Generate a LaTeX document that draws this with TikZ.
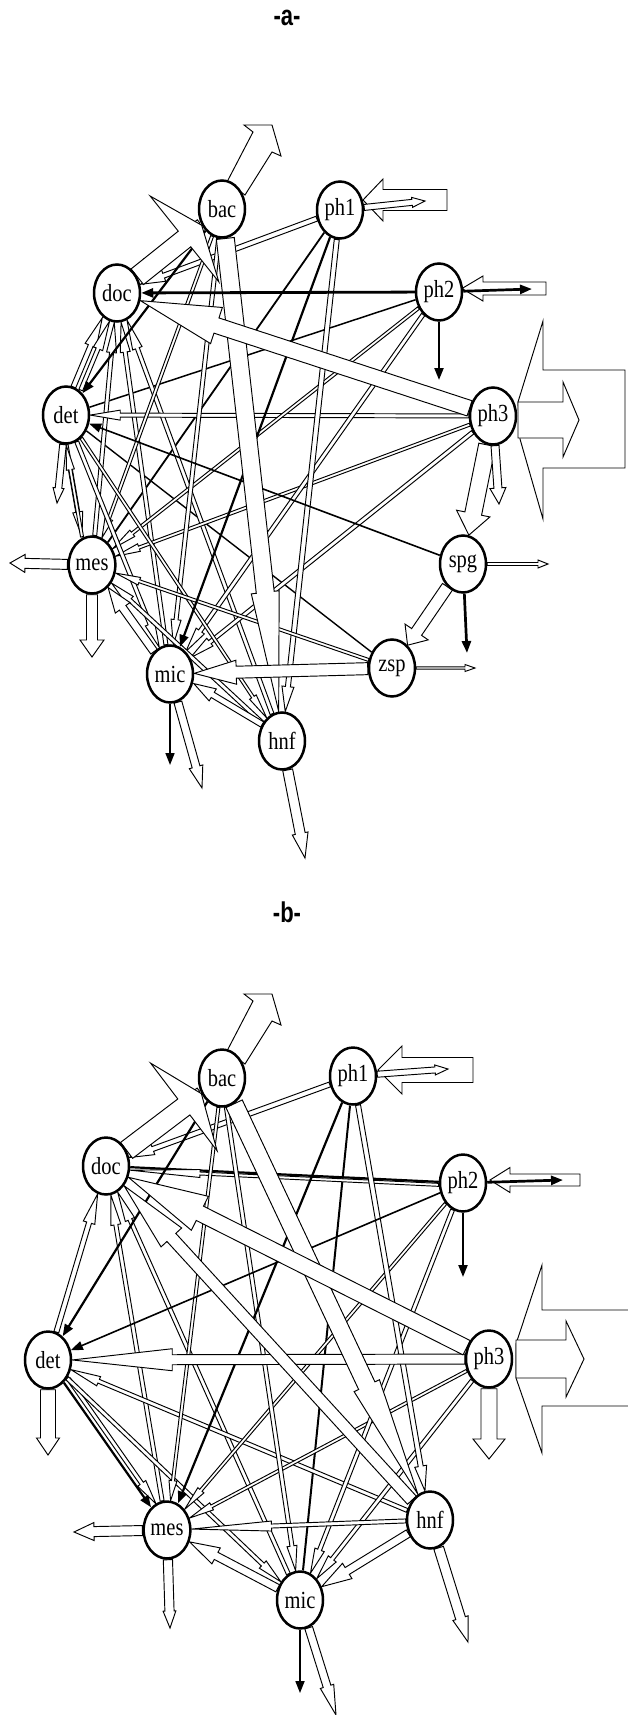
\documentclass[tikz,border=0pt]{standalone}
\usepackage{fontspec}
\setmainfont{Liberation Serif}
\setsansfont{Liberation Sans}
\usepackage{graphicx}
\usetikzlibrary{shapes.geometric,calc,arrows.meta}
\pgfdeclarelayer{bg}
\pgfsetlayers{bg,main}
\tikzset{
 nd/.style={ellipse, draw, line width=2.5pt, fill=white, minimum width=46pt, minimum height=57pt, inner sep=0pt, font=\fontsize{20.5}{20.5}\selectfont},
 hol/.style={draw=black, fill=white, line width=0.95pt, line join=miter},
 blk/.style={draw=black, -{Triangle[length=12pt,width=9pt]}},
 pln/.style={draw=black},
 ttl/.style={font=\sffamily\bfseries\fontsize{22}{22}\selectfont}
}
\newcommand\nl[1]{\scalebox{1}[1.2]{#1}}
% hollow arrow: from, to, half width, head half width, head length, perpendicular shift
\newcommand\harr[6]{%
  \path (#1) -- coordinate[pos=0] (hS0) coordinate[pos=1] (hE0) (#2);
  \coordinate (hS) at ($(hS0)!#6pt!90:(hE0)$);
  \coordinate (hE) at ($(hE0)!#6pt!-90:(hS0)$);
  \coordinate (hB) at ($(hE)!#5pt!(hS)$);
  \draw[hol] ($(hS)!#3pt!90:(hE)$) -- ($(hB)!#3pt!90:(hE)$) -- ($(hB)!#4pt!90:(hE)$) -- (hE)
     -- ($(hB)!#4pt!-90:(hE)$) -- ($(hB)!#3pt!-90:(hE)$) -- ($(hS)!#3pt!-90:(hE)$) -- cycle;
}
% import arrow pointing left into a node: node, tipx, cy, barbx, hh, hw, tailx
\newcommand\impa[7]{%
  \draw[hol] ($(#1)+(#2,#3)$) -- ($(#1)+(#4,#3-#5)$) -- ($(#1)+(#4,#3-#6)$) -- ($(#1)+(#7,#3-#6)$)
     -- ($(#1)+(#7,#3+#6)$) -- ($(#1)+(#4,#3+#6)$) -- ($(#1)+(#4,#3+#5)$) -- cycle;
}
% clipped export arrow above bac
\newcommand\bacup[1]{%
  \draw[hol] ($(#1)+(5,-27)$) -- ($(#1)+(31,-77)$) -- ($(#1)+(22,-84)$) -- ($(#1)+(50,-84)$)
     -- ($(#1)+(59,-53)$) -- ($(#1)+(50,-57)$) -- ($(#1)+(23,-14)$) -- cycle;
}
\begin{document}
\begin{tikzpicture}[x=1pt,y=-1pt]
\useasboundingbox (0,0) rectangle (628,1715);
\node[ttl] (ta) at (287,18) {\scalebox{1}[1.3]{-a-}};
\node[ttl] (tb) at (287,912) {\scalebox{1}[1.3]{-b-}};
% ---------------- panel a nodes
\node[nd] (aBac) at (222,209) {\nl{bac}};
\node[nd] (aPh1) at (340,210) {\nl{ph1}};
\node[nd] (aDoc) at (117,293) {\nl{doc}};
\node[nd] (aPh2) at (439,292) {\nl{ph2}};
\node[nd] (aDet) at (66,415) {\nl{det}};
\node[nd] (aPh3) at (493,416) {\nl{ph3}};
\node[nd] (aMes) at (92,565) {\nl{mes}};
\node[nd] (aSpg) at (463,564) {\nl{spg}};
\node[nd] (aMic) at (170,674) {\nl{mic}};
\node[nd] (aZsp) at (392,668) {\nl{zsp}};
\node[nd] (aHnf) at (282,741) {\nl{hnf}};
% ---------------- panel b nodes
\node[nd] (bBac) at (222,1078) {\nl{bac}};
\node[nd] (bPh1) at (353,1076) {\nl{ph1}};
\node[nd] (bDoc) at (106,1166) {\nl{doc}};
\node[nd] (bPh2) at (463,1183) {\nl{ph2}};
\node[nd] (bDet) at (48,1360) {\nl{det}};
\node[nd] (bPh3) at (489,1359) {\nl{ph3}};
\node[nd] (bMes) at (167,1530) {\nl{mes}};
\node[nd] (bHnf) at (430,1520) {\nl{hnf}};
\node[nd] (bMic) at (300,1600) {\nl{mic}};
% external end points
\coordinate (aPh1x) at ($(aPh1)+(85,-9)$);
\coordinate (aPh2x) at ($(aPh2)+(93,-3)$);
\coordinate (aPh2d) at ($(aPh2)+(0,88)$);
\coordinate (aPh3d) at ($(aPh3)+(6,88)$);
\coordinate (aDetd) at ($(aDet)+(-9,88)$);
\coordinate (aMesl) at ($(aMes)+(-82,-2)$);
\coordinate (aMesd) at ($(aMes)+(0,92)$);
\coordinate (aMicd) at ($(aMic)+(0,91)$);
\coordinate (aMicr) at ($(aMic)+(32,114)$);
\coordinate (aHnfd) at ($(aHnf)+(23,117)$);
\coordinate (aSpgr) at ($(aSpg)+(85,0)$);
\coordinate (aSpgd) at ($(aSpg)+(4,89)$);
\coordinate (aZspr) at ($(aZsp)+(83,0)$);
\coordinate (bPh1x) at ($(bPh1)+(95,-7)$);
\coordinate (bPh2x) at ($(bPh2)+(100,-3)$);
\coordinate (bPh2d) at ($(bPh2)+(0,94)$);
\coordinate (bPh3d) at ($(bPh3)+(0,100)$);
\coordinate (bDetd) at ($(bDet)+(0,95)$);
\coordinate (bMesl) at ($(bMes)+(-93,2)$);
\coordinate (bMesd) at ($(bMes)+(3,98)$);
\coordinate (bMicd) at ($(bMic)+(0,93)$);
\coordinate (bMicr) at ($(bMic)+(36,115)$);
\coordinate (bHnfd) at ($(bHnf)+(38,122)$);
\begin{pgfonlayer}{bg}
% ======== panel a
\draw[pln, line width=1.4pt] (aZsp) -- (aDet);
\draw[pln, line width=1.5pt] (aPh2) -- (aDet);
\draw[pln, line width=1.8pt] (aPh1) -- (aMes);
\harr{aBac}{aDoc}{2}{5}{16}{-5}
\harr{aPh1}{aDoc}{2.5}{6}{25}{0}
\harr{aDet}{aDoc}{2.5}{6}{30}{4}
\harr{aDet}{aDoc}{2}{5}{30}{-4}
\harr{aMes}{aDoc}{2}{5}{30}{0}
\harr{aMic}{aDoc}{2}{5}{30}{0}
\harr{aHnf}{aDoc}{2}{5}{30}{0}
\harr{aPh3}{aDet}{2}{5}{30}{0}
\harr{aPh3}{aMes}{1.5}{4}{25}{0}
\harr{aPh3}{aMic}{2}{5}{25}{0}
\harr{aPh2}{aMes}{1.5}{4}{25}{0}
\harr{aPh2}{aMic}{2}{5}{25}{0}
\harr{aPh1}{aHnf}{2.5}{6}{25}{0}
\harr{aBac}{aMes}{1.5}{4}{20}{0}
\harr{aBac}{aMic}{2}{5}{25}{0}
\harr{aDet}{aMes}{2}{5}{25}{-5}
\harr{aMes}{aDet}{1.5}{4}{25}{5}
\harr{aDet}{aMic}{2}{5}{25}{0}
\harr{aDet}{aHnf}{1.5}{4}{25}{0}
\harr{aHnf}{aMes}{2}{5}{25}{0}
\harr{aZsp}{aMes}{1.5}{4}{25}{0}
\harr{aHnf}{aMic}{3}{7}{22}{-4}
\harr{aMic}{aMes}{4}{9}{25}{0}
\draw[blk, line width=1.6pt] (aSpg) -- (aDet);
\draw[blk, line width=2.2pt] (aBac) -- (aDet);
\draw[blk, line width=2.2pt] (aPh1) -- (aMic);
\harr{aBac}{aHnf}{9}{14}{120}{0}
\harr{aZsp}{aMic}{6}{12}{42}{0}
\harr{aSpg}{aZsp}{6}{14}{16}{0}
\harr{aPh3}{aSpg}{8.5}{17}{22}{0}
\harr{aPh3}{aDoc}{8}{19}{80}{0}
\harr{aDoc}{aBac}{10}{55}{22}{0}
\draw[blk, line width=2.8pt] (aPh2) -- (aDoc);
% exports / imports a
\bacup{aBac}
\impa{aPh1}{23}{-10}{43}{21}{10.5}{107}
\harr{aPh1}{aPh1x}{3}{5}{13}{0}
\impa{aPh2}{23}{-3.5}{44}{12.5}{6.5}{107}
\draw[blk, line width=2.7pt] (aPh2) -- (aPh2x);
\draw[blk, line width=2.2pt] (aPh2) -- (aPh2d);
\draw[hol] ($(aPh3)+(25,-14)$) -- ($(aPh3)+(50,-95)$) -- ($(aPh3)+(50,-46)$) -- ($(aPh3)+(132,-46)$)
   -- ($(aPh3)+(132,52)$) -- ($(aPh3)+(50,52)$) -- ($(aPh3)+(50,103)$) -- ($(aPh3)+(27,23)$) -- cycle;
\draw[hol] ($(aPh3)+(25,-14)$) -- ($(aPh3)+(70,-14)$) -- ($(aPh3)+(70,-34)$) -- ($(aPh3)+(86,4)$)
   -- ($(aPh3)+(70,41)$) -- ($(aPh3)+(70,22)$) -- ($(aPh3)+(25,22)$) -- cycle;
\harr{aPh3}{aPh3d}{4}{8}{16}{0}
\harr{aDet}{aDetd}{3.3}{5.5}{15}{0}
\harr{aMes}{aMesl}{5}{9}{15}{0}
\harr{aMes}{aMesd}{5.5}{12}{17}{0}
\draw[blk, line width=1.7pt] (aMic) -- (aMicd);
\harr{aMic}{aMicr}{4}{7}{22}{0}
\harr{aHnf}{aHnfd}{5}{8}{25}{0}
\harr{aSpg}{aSpgr}{1.5}{4}{10}{0}
\draw[blk, line width=2.7pt] (aSpg) -- (aSpgd);
\harr{aZsp}{aZspr}{1.2}{3.5}{10}{0}
% ======== panel b
\draw[pln, line width=2pt] (bPh1) -- (bMic);
\draw[pln, line width=2.2pt] (bPh2) -- (bDoc);
\harr{bBac}{bDoc}{2}{5}{16}{-5}
\harr{bPh1}{bDoc}{2.5}{6}{25}{0}
\harr{bPh2}{bDoc}{1.5}{4}{70}{3}
\harr{bDet}{bDoc}{2.5}{6}{30}{0}
\harr{bMes}{bDoc}{2}{5}{30}{0}
\harr{bMic}{bDoc}{2}{5}{30}{0}
\harr{bDet}{bMes}{2}{5}{25}{6}
\harr{bDet}{bMic}{2}{5}{25}{0}
\harr{bHnf}{bDet}{2}{5}{30}{0}
\harr{bPh3}{bMes}{1.5}{4}{25}{0}
\harr{bPh3}{bMic}{2}{5}{25}{0}
\harr{bPh2}{bMic}{2}{5}{25}{0}
\harr{bPh2}{bMes}{1.5}{4}{25}{0}
\harr{bPh1}{bHnf}{2.5}{6}{25}{0}
\harr{bBac}{bMes}{1.5}{4}{20}{0}
\harr{bBac}{bMic}{2}{5}{25}{0}
\harr{bHnf}{bMes}{2}{5}{80}{0}
\harr{bHnf}{bMic}{4}{9}{30}{0}
\harr{bMic}{bMes}{4}{9}{30}{0}
\draw[blk, line width=2.2pt] (bBac) -- (bDet);
\draw[blk, line width=1.6pt] (bPh2) -- (bDet);
\draw[blk, line width=2.2pt] (bPh1) -- (bMes);
\draw[blk, line width=2.2pt] (bDet) -- (bMes);
\harr{bPh3}{bDet}{5}{11}{100}{0}
\harr{bBac}{bHnf}{9}{14}{120}{0}
\harr{bHnf}{bDoc}{6}{14}{70}{0}
\harr{bPh3}{bDoc}{8}{19}{80}{0}
\harr{bDoc}{bBac}{10}{55}{22}{0}
% exports / imports b
\bacup{bBac}
\impa{bPh1}{25}{-6}{49}{24}{12.5}{120}
\harr{bPh1}{bPh1x}{3}{5}{13}{0}
\impa{bPh2}{27}{-3}{47}{12.5}{6}{117}
\draw[blk, line width=2.7pt] (bPh2) -- (bPh2x);
\draw[blk, line width=2.2pt] (bPh2) -- (bPh2d);
\draw[hol] ($(bPh3)+(27,-15)$) -- ($(bPh3)+(53,-94)$) -- ($(bPh3)+(53,-49)$) -- ($(bPh3)+(160,-49)$)
   -- ($(bPh3)+(160,47)$) -- ($(bPh3)+(53,47)$) -- ($(bPh3)+(53,94)$) -- ($(bPh3)+(27,19)$) -- cycle;
\draw[hol] ($(bPh3)+(27,-19)$) -- ($(bPh3)+(77,-19)$) -- ($(bPh3)+(77,-38)$) -- ($(bPh3)+(95,0)$)
   -- ($(bPh3)+(77,38)$) -- ($(bPh3)+(77,19)$) -- ($(bPh3)+(27,19)$) -- cycle;
\harr{bPh3}{bPh3d}{8}{16}{20}{0}
\harr{bDet}{bDetd}{7.5}{11.5}{17}{0}
\harr{bMes}{bMesl}{5}{9}{20}{0}
\harr{bMes}{bMesd}{4.6}{6.4}{17}{0}
\draw[blk, line width=1.7pt] (bMic) -- (bMicd);
\harr{bMic}{bMicr}{4}{7}{30}{0}
\harr{bHnf}{bHnfd}{5}{8}{25}{0}
\end{pgfonlayer}
\end{tikzpicture}
\end{document}
